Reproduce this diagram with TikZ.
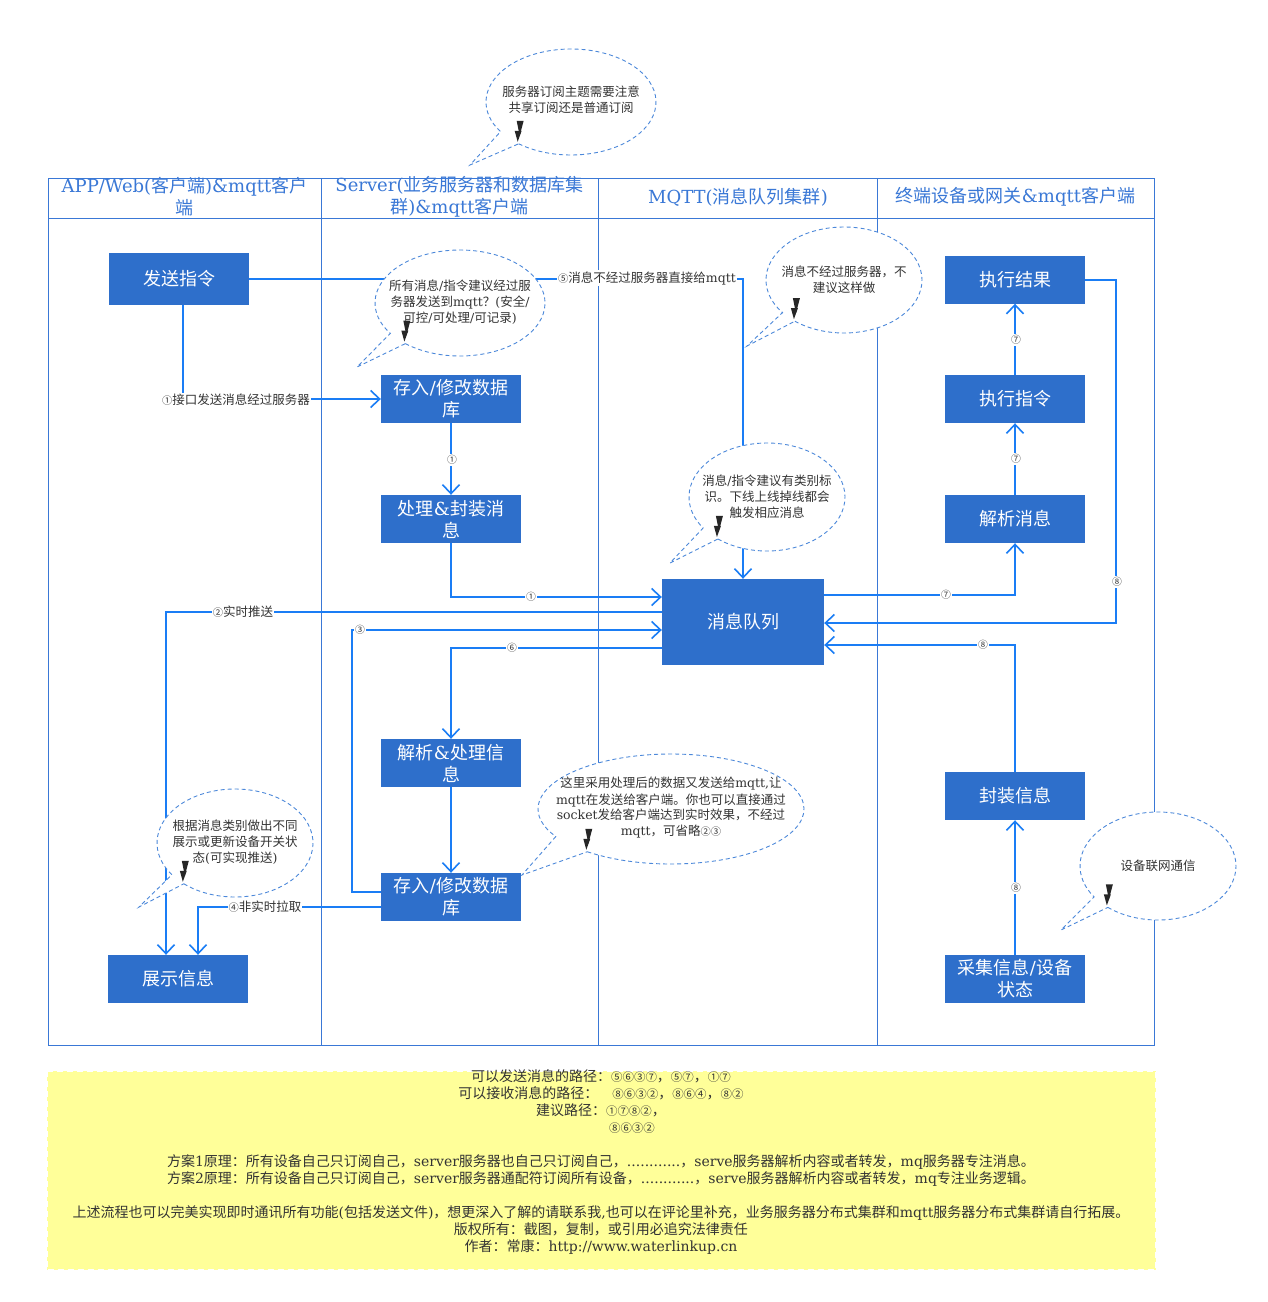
\documentclass[tikz,border=0pt]{standalone}
\usepackage{fontspec}
\setmainfont{DejaVu Serif}
\newfontfamily\cjk{Noto Sans CJK SC}
\newfontfamily\circfont{Noto Sans CJK SC}[Scale=0.82]
\usetikzlibrary{arrows.meta,calc}
\XeTeXinterchartokenstate=1
\newXeTeXintercharclass\cjkcls
\newXeTeXintercharclass\circcls
\makeatletter
\def\setcjkrange#1#2#3{\count@=#1\relax\loop\ifnum\count@<#2\relax\XeTeXcharclass\count@=#3\advance\count@\@ne\repeat}
\makeatother
\setcjkrange{"4E00}{"A000}{\cjkcls}
\setcjkrange{"3000}{"3040}{\cjkcls}
\setcjkrange{"FF00}{"FFF0}{\cjkcls}
\setcjkrange{"2460}{"2474}{\circcls}
\XeTeXinterchartoks 0 \cjkcls = {\begingroup\cjk}
\XeTeXinterchartoks 4095 \cjkcls = {\begingroup\cjk}
\XeTeXinterchartoks \cjkcls 0 = {\endgroup}
\XeTeXinterchartoks \cjkcls 4095 = {\endgroup}
\XeTeXinterchartoks 0 \circcls = {\begingroup\circfont}
\XeTeXinterchartoks 4095 \circcls = {\begingroup\circfont}
\XeTeXinterchartoks \circcls 0 = {\endgroup}
\XeTeXinterchartoks \circcls 4095 = {\endgroup}
\XeTeXinterchartoks \cjkcls \circcls = {\endgroup\begingroup\circfont}
\XeTeXinterchartoks \circcls \cjkcls = {\endgroup\begingroup\cjk}
\definecolor{laneblue}{HTML}{3A78D6}
\definecolor{boxblue}{HTML}{2E6FCB}
\definecolor{arrowblue}{HTML}{1A7DF5}
\definecolor{callblue}{HTML}{4C88DA}
\definecolor{textgray}{HTML}{333333}
\definecolor{noteyellow}{HTML}{FFFF99}
\tikzset{
  lane/.style={draw=laneblue, line width=1pt},
  head/.style={text=laneblue, align=center, inner sep=0pt, font=\fontsize{18}{22}\selectfont},
  box/.style={fill=boxblue, text=white, minimum width=140pt, minimum height=48pt, align=center, inner sep=0pt, font=\fontsize{18}{22}\selectfont},
  flow/.style={draw=arrowblue, line width=2pt, -{Straight Barb[length=9pt,width=17pt,line width=1.6pt]}},
  elabel/.style={fill=white, text=textgray, inner sep=1pt, font=\fontsize{12.5}{14}\selectfont},
  nlabel/.style={fill=white, text=textgray, inner sep=1pt, font=\fontsize{12}{12}\selectfont},
  callout/.style={draw=callblue, dash pattern=on 4pt off 3pt, fill=white, line width=0.9pt},
  ctext/.style={text=textgray, align=center, inner sep=0pt, font=\fontsize{12.5}{16}\selectfont},
}
\newcommand\bubble[9]{%
  \coordinate (#1c) at (#2,-#3);
  \draw[callout] ($(#1c)+(#7:#4 and #5)$) arc[start angle=#7, end angle=#6+360, x radius=#4, y radius=#5] -- (#8,-#9) -- cycle;
  \coordinate (#1m) at ($(#1c)+(#7:#4 and #5)$);
  \fill[black!85] ($(#1m)+(-2,23)$) -- ++(7,0) -- ++(-4,-15) -- cycle;
  \fill[black!85] ($(#1m)+(-4,13)$) -- ++(7,0) -- ++(-4,-11) -- cycle;
}
\begin{document}
\begin{tikzpicture}[x=1pt,y=1pt]
\useasboundingbox (0,0) rectangle (1268,-1302);
\fill[white] (0,0) rectangle (1268,-1302);

% swimlanes
\draw[lane] (48,-178) rectangle (1154,-1045);
\draw[lane] (48,-218) -- (1154,-218);
\draw[lane] (321,-178) -- (321,-1045);
\draw[lane] (598,-178) -- (598,-1045);
\draw[lane] (877,-178) -- (877,-1045);
\node[head] (h1) at (184.5,-197) {APP/Web(客户端)\&mqtt客户\\端};
\node[head] (h2) at (459.5,-197) {Server(业务服务器和数据库集\\群)\&mqtt客户端};
\node[head] (h3) at (738,-197) {MQTT(消息队列集群)};
\node[head] (h4) at (1015.5,-197) {终端设备或网关\&mqtt客户端};

% boxes
\node[box, minimum height=52pt] (send) at (179,-279) {发送指令};
\node[box] (db1) at (451,-399) {存入/修改数据\\库};
\node[box] (proc) at (451,-519) {处理\&封装消\\息};
\node[box, minimum width=162pt, minimum height=86pt] (queue) at (743,-622) {消息队列};
\node[box] (result) at (1015,-279.5) {执行结果};
\node[box] (exec) at (1015,-399) {执行指令};
\node[box] (parsemsg) at (1015,-519) {解析消息};
\node[box] (parse) at (451,-763) {解析\&处理信\\息};
\node[box] (db2) at (451,-897) {存入/修改数据\\库};
\node[box] (pack) at (1015,-796) {封装信息};
\node[box] (collect) at (1015,-979) {采集信息/设备\\状态};
\node[box] (show) at (178,-979) {展示信息};

% connectors
\draw[flow] (send.east) -| (queue.north);
\draw[flow] ([xshift=4pt]send.south) |- (db1.west);
\draw[flow] (db1.south) -- (proc.north);
\draw[flow] (proc.south) |- ([yshift=25pt]queue.west);
\draw[flow] ([yshift=10pt]queue.west) -| ([xshift=-12pt]show.north);
\draw[flow] ([yshift=5pt]db2.west) -- ++(-29,0) |- ([yshift=-8pt]queue.west);
\draw[flow] ([yshift=-26pt]queue.west) -| (parse.north);
\draw[flow] (parse.south) -- (db2.north);
\draw[flow] ([yshift=-10pt]db2.west) -| ([xshift=20pt]show.north);
\draw[flow] ([yshift=27pt]queue.east) -| (parsemsg.south);
\draw[flow] (parsemsg.north) -- (exec.south);
\draw[flow] (exec.north) -- (result.south);
\draw[flow] (result.east) -- ++(31,0) |- ([yshift=-1pt]queue.east);
\draw[flow] (pack.north) |- ([yshift=-23pt]queue.east);
\draw[flow] (collect.north) -- (pack.south);

% connector labels
\node[elabel] (l5) at (647,-278) {⑤消息不经过服务器直接给mqtt};
\node[elabel] (l1a) at (236,-400) {①接口发送消息经过服务器};
\node[nlabel] (l1b) at (452,-460) {①};
\node[nlabel] (l1c) at (531,-597) {①};
\node[elabel] (l2) at (243,-612) {②实时推送};
\node[nlabel] (l3) at (360,-630) {③};
\node[nlabel] (l6) at (512,-648) {⑥};
\node[elabel] (l4) at (265,-907) {④非实时拉取};
\node[nlabel] (l7a) at (946,-595) {⑦};
\node[nlabel] (l7b) at (1016,-459) {⑦};
\node[nlabel] (l7c) at (1016,-340) {⑦};
\node[nlabel] (l8a) at (1117,-582) {⑧};
\node[nlabel] (l8b) at (983,-645) {⑧};
\node[nlabel] (l8c) at (1016,-888) {⑧};

% callouts
\bubble{b1}{571}{102}{85}{53}{214}{232}{470}{165}
\bubble{b2}{460}{303}{85}{53}{215}{230}{357}{367}
\bubble{b3}{844}{280}{78}{53}{218}{231}{747}{346}
\bubble{b4}{767}{497}{78}{54}{215}{231}{670}{563}
\bubble{b5}{671}{809}{133}{55}{210}{231}{522}{875}
\bubble{b6}{235}{843}{78}{54}{216}{229}{139}{907}
\bubble{b7}{1158}{866}{78}{54}{215}{230}{1061}{930}
\node[ctext] (t1) at (571,-100) {服务器订阅主题需要注意\\共享订阅还是普通订阅};
\node[ctext] (t2) at (460,-302) {所有消息/指令建议经过服\\务器发送到mqtt？(安全/\\可控/可处理/可记录)};
\node[ctext] (t3) at (844,-280) {消息不经过服务器，不\\建议这样做};
\node[ctext] (t4) at (767,-497) {消息/指令建议有类别标\\识。下线上线掉线都会\\触发相应消息};
\node[ctext] (t5) at (671,-808) {这里采用处理后的数据又发送给mqtt,让\\mqtt在发送给客户端。你也可以直接通过\\socket发给客户端达到实时效果，不经过\\mqtt，可省略②③};
\node[ctext] (t6) at (235,-842) {根据消息类别做出不同\\展示或更新设备开关状\\态(可实现推送)};
\node[ctext] (t7) at (1158,-866) {设备联网通信};

% note
\fill[noteyellow] (47,-1071) rectangle (1156,-1270);
\draw[white, line width=1.5pt, dash pattern=on 6pt off 4pt] (47,-1071) rectangle (1156,-1270);
\node[text=textgray, align=center, inner sep=0pt, font=\fontsize{14}{17}\selectfont] (note) at (601,-1162) {%
可以发送消息的路径：⑤⑥③⑦，⑤⑦，①⑦\\
可以接收消息的路径：\hspace{14pt}⑧⑥③②，⑧⑥④，⑧②\\
建议路径：①⑦⑧②，\\
\hspace*{62pt}⑧⑥③②\\
\mbox{}\\
方案1原理：所有设备自己只订阅自己，server服务器也自己只订阅自己，............，serve服务器解析内容或者转发，mq服务器专注消息。\\
方案2原理：所有设备自己只订阅自己，server服务器通配符订阅所有设备，............，serve服务器解析内容或者转发，mq专注业务逻辑。\\
\mbox{}\\
上述流程也可以完美实现即时通讯所有功能(包括发送文件)，想更深入了解的请联系我,也可以在评论里补充，业务服务器分布式集群和mqtt服务器分布式集群请自行拓展。\\
版权所有：截图，复制，或引用必追究法律责任\\
作者：常康：http://www.waterlinkup.cn};
\end{tikzpicture}
\end{document}
